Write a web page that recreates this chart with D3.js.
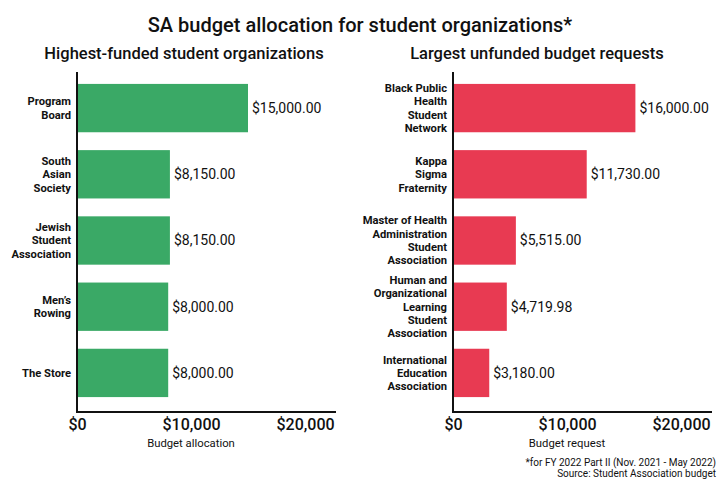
<!DOCTYPE html>
<html><head><meta charset="utf-8">
<script src="https://cdn.jsdelivr.net/npm/d3@7"></script>
<style>
body{margin:0;background:#fff;}
text{font-family:"Roboto","Noto Sans",sans-serif;fill:#111;}
</style></head>
<body><svg id="c" width="720" height="480"></svg>
<script>
const leftCategories = [["Program","Board"],["South","Asian","Society"],["Jewish","Student","Association"],["Men’s","Rowing"],["The Store"]];
const leftValues = [15000, 8150, 8150, 8000, 8000];
const rightCategories = [["Black Public","Health","Student","Network"],["Kappa","Sigma","Fraternity"],["Master of Health","Administration","Student","Association"],["Human and","Organizational","Learning","Student","Association"],["International","Education","Association"]];
const rightValues = [16000, 11730, 5515, 4719.98, 3180];
const tickValues = [0, 10000, 20000];

const svg = d3.select("#c");
svg.append("text").attr("x",360).attr("y",32).attr("text-anchor","middle")
  .style("font-size","20px").style("font-weight","500").text("SA budget allocation for student organizations*");

function panel(x0, xEnd, cats, vals, color, subtitle, subX, axisTitle){
  const x = d3.scaleLinear().domain([0,20000]).range([x0, x0+228]);
  const y = d3.scaleBand().domain(d3.range(cats.length)).range([72, 409]).paddingInner(0.27).paddingOuter(0.18);
  const g = svg.append("g");
  g.append("text").attr("x",subX).attr("y",59).attr("text-anchor","middle")
    .style("font-size","16.5px").style("font-weight","500").text(subtitle);
  g.selectAll("rect").data(vals).join("rect")
    .attr("x",x(0)).attr("y",(d,i)=>y(i)).attr("width",d=>x(d)-x(0)).attr("height",y.bandwidth()).attr("fill",color);
  g.selectAll(".val").data(vals).join("text").attr("class","val")
    .attr("x",d=>x(d)+4).attr("y",(d,i)=>y(i)+y.bandwidth()/2).attr("dy","0.35em")
    .style("font-size","14px").text(d=>d3.format("$,.2f")(d));
  cats.forEach((lines,i)=>{
    const t = g.append("text").attr("text-anchor","end").style("font-size","11.2px").style("font-weight","bold");
    const lh = 13.3;
    const cy = y(i)+y.bandwidth()/2 - (lines.length-1)*lh/2;
    lines.forEach((l,k)=>t.append("tspan").attr("x",x0-6).attr("y",cy+k*lh).attr("dy","0.35em").text(l));
  });
  g.append("line").attr("x1",x0).attr("x2",x0).attr("y1",72).attr("y2",413).attr("stroke","#111").attr("stroke-width",2);
  g.append("line").attr("x1",x0-1).attr("x2",xEnd).attr("y1",412).attr("y2",412).attr("stroke","#111").attr("stroke-width",2);
  const ax = g.append("g").attr("transform","translate(0,412)")
    .call(d3.axisBottom(x).tickValues(tickValues).tickSize(0).tickPadding(7).tickFormat(d3.format("$,")));
  ax.select(".domain").remove();
  ax.selectAll("text").style("font-size","16px").style("font-weight","500").attr("fill","#111");
  g.append("text").attr("x",x(10000)).attr("y",447).attr("text-anchor","middle")
    .style("font-size","11.3px").text(axisTitle);
}
panel(77, 336, leftCategories, leftValues, "#3aa966", "Highest-funded student organizations", 184, "Budget allocation");
panel(453, 712, rightCategories, rightValues, "#e83a52", "Largest unfunded budget requests", 537, "Budget request");

svg.append("text").attr("x",716).attr("y",466).attr("text-anchor","end").style("font-size","10px").text("*for FY 2022 Part II (Nov. 2021 - May 2022)");
svg.append("text").attr("x",716).attr("y",477).attr("text-anchor","end").style("font-size","10px").text("Source: Student Association budget");
</script></body></html>
